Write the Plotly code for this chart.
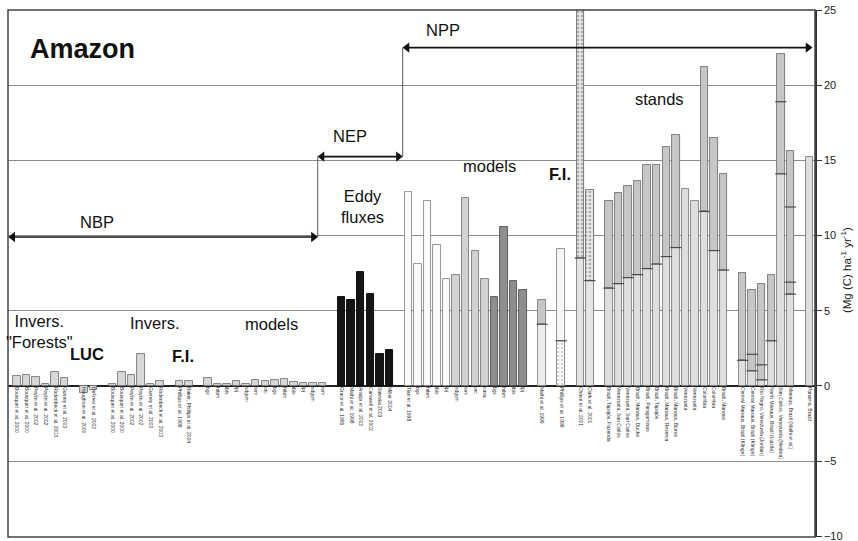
import plotly.graph_objects as go

# ---------------- data (Mg C ha-1 yr-1) ----------------
forest_inv_labels = ["Bousquet et al. 2000", "Bousquet et al. 2000", "Peylin et al. 2002",
                     "Peylin et al. 2002", "Rödenbeck et al. 2003", "Gurney et al. 2003"]
forest_inv_vals = [0.66, 0.7, 0.6, 0.15, 0.93, 0.55]

luc_labels = ["Houghton et al. 2000", "DeFries et al. 2002"]
luc_vals = [-0.5, -0.3]

inv_labels = ["Bousquet et al. 2000", "Bousquet et al. 2000", "Peylin et al. 2002",
              "Peylin et al. 2002", "Gurney et al. 2003", "Rödenbeck et al. 2003"]
inv_vals = [0.1, 0.95, 0.75, 2.1, 0.1, 0.3]

fi_nbp_labels = ["Phillips et al. 1998", "Baker, Phillips et al. 2004"]
fi_nbp_vals = [0.3, 0.3]

nbp_model_labels = ["bgc", "hrbm", "ibis", "lpj", "sdgvm", "tem", "orc",
                    "bgc", "hrbm", "ibis", "lpj", "sdgvm", "tem"]
nbp_model_vals = [0.5, 0.1, 0.15, 0.35, 0.1, 0.4, 0.35, 0.4, 0.45, 0.25, 0.2, 0.2, 0.2]

eddy_labels = ["Grace et al. 1995", "Malhi et al. 1998", "Araújo et al. 2002",
               "Carswell et al. 2002", "Saleska 2003", "Miller 2004"]
eddy_vals = [5.9, 5.7, 7.6, 6.1, 2.1, 2.4]

npp_model_a_labels = ["Tian et al. 1998", "bgc", "hrbm", "ibis", "lpj"]
npp_model_a_vals = [12.9, 8.1, 12.3, 9.4, 7.1]
npp_model_b_labels = ["sdgvm", "tem", "orc", "casa"]
npp_model_b_vals = [7.4, 12.5, 9.0, 7.1]
npp_model_c_labels = ["bgc", "hrbm", "ibis", "lpj"]
npp_model_c_vals = [5.9, 10.6, 7.0, 6.4]

malhi_labels = ["Malhi et al. 1999"]
malhi_vals = [5.7]
malhi_marks = [[4.1]]

fi_npp_labels = ["Phillips et al. 1998"]
fi_npp_vals = [9.1]
fi_npp_marks = [[3.0]]

plot_labels = ["Chave et al. 2001", "Clark et al. 2001"]
plot_vals = [26.0, 13.0]
plot_marks = [[8.5], [7.0]]

stand_labels = ["Brazil, Tapajós, Fazenda", "Venezuela, San Carlos", "Venezuela, San Carlos",
                "Brazil, Manaus, Ducke", "Brazil, Paragominas", "Brazil, Tapajós",
                "Brazil, Manaus, Reserva", "Brazil, Manaus, Bionte", "Venezuela",
                "Venezuela", "Colombia", "Colombia", "Brazil, Manaus"]
stand_vals = [12.3, 12.8, 13.3, 13.6, 14.7, 14.7, 15.9, 16.7, 13.1, 12.3, 21.2, 16.5, 14.1]
stand_marks = [[6.5], [6.8], [7.2], [7.4], [7.8], [8.1], [8.6], [9.2], [], [], [11.6], [9.0], [7.7]]

stand2_labels = ["Central Manaus, Brazil (Klinge)", "Central Manaus, Brazil (Klinge)",
                 "Río Negro, Venezuela (Jordan)", "North Manaus, Brazil (Luizão)",
                 "San Carlos, Venezuela (Medina)", "Manaus, Brazil (Malhi et al.)"]
stand2_vals = [7.5, 6.4, 6.8, 7.4, 22.1, 15.6]
stand2_marks = [[1.7], [2.1, 1.0], [1.4, 0.4], [3.0], [18.9, 14.1], [11.9, 6.9, 6.1]]

last_labels = ["Panama, Brazil"]
last_vals = [15.2]

y_ticks = [-10, -5, 0, 5, 10, 15, 20, 25]

# ---------------- styles ----------------
STYLES = {
    "nbp":   dict(fill="#d8d8d8", line="#777777"),
    "eddy":  dict(fill="#141414", line="#000000"),
    "white": dict(fill="#fbfbfb", line="#8a8a8a"),
    "light": dict(fill="#d2d2d2", line="#7a7a7a"),
    "dark":  dict(fill="#8e8e8e", line="#555555"),
    "pale":  dict(fill="#ececec", line="#8a8a8a"),
    "fi":    dict(fill="#f7f7f7", line="#8a8a8a"),
    "check": dict(fill="#e4e4e4", line="#7a7a7a"),
    "stand": dict(fill="#dedede", line="#808080"),
}

# (labels, values, marks, style, gap before group)
groups = [
    (forest_inv_labels, forest_inv_vals, None, "nbp", 0),
    (luc_labels, luc_vals, None, "nbp", 1),
    (inv_labels, inv_vals, None, "nbp", 1),
    (fi_nbp_labels, fi_nbp_vals, None, "nbp", 1),
    (nbp_model_labels, nbp_model_vals, None, "nbp", 1),
    (eddy_labels, eddy_vals, None, "eddy", 1),
    (npp_model_a_labels, npp_model_a_vals, None, "white", 1),
    (npp_model_b_labels, npp_model_b_vals, None, "light", 0),
    (npp_model_c_labels, npp_model_c_vals, None, "dark", 0),
    (malhi_labels, malhi_vals, malhi_marks, "pale", 1),
    (fi_npp_labels, fi_npp_vals, fi_npp_marks, "fi", 1),
    (plot_labels, plot_vals, plot_marks, "check", 1),
    (stand_labels, stand_vals, stand_marks, "stand", 1),
    (stand2_labels, stand2_vals, stand2_marks, "stand", 1),
    (last_labels, last_vals, None, "stand", 1),
]

BAR_W = 0.78
fig = go.Figure()
tickvals, ticktext = [], []
mark_x, mark_y = [], []
pos = -1
for labels, vals, marks, style, gap in groups:
    pos += gap
    xs = []
    for lab in labels:
        pos += 1
        xs.append(pos)
        tickvals.append(pos)
        ticktext.append(lab)
    st = STYLES[style]
    fig.add_trace(go.Bar(x=xs, y=vals, width=BAR_W,
                         marker=dict(color=st["fill"], line=dict(color=st["line"], width=0.9)),
                         showlegend=False, hoverinfo="skip"))
    if marks:
        ox, ob, oh = [], [], []
        for x, v, mk in zip(xs, vals, marks):
            for m in mk:
                mark_x.append(x)
                mark_y.append(m)
            if not mk:
                continue
            low = min(mk)
            if style == "fi":
                ox.append(x); ob.append(0); oh.append(low)
            else:
                ox.append(x); ob.append(low); oh.append(v - low)
        if style == "check":
            om = dict(color="#e8e8e8", line=dict(color=st["line"], width=0.9),
                      pattern=dict(shape=".", fgcolor="#6d6d6d", bgcolor="#e8e8e8",
                                   size=4, solidity=0.35))
        elif style == "fi":
            om = dict(color="#f7f7f7", line=dict(color=st["line"], width=0.9),
                      pattern=dict(shape=".", fgcolor="#9a9a9a", bgcolor="#f7f7f7",
                                   size=4, solidity=0.2))
        else:
            om = dict(color="#c6c6c6", line=dict(color=st["line"], width=0.9))
        if ox:
            fig.add_trace(go.Bar(x=ox, y=oh, base=ob, width=BAR_W, marker=om,
                                 showlegend=False, hoverinfo="skip"))

# horizontal ticks marking values inside the bars
fig.add_trace(go.Scatter(x=mark_x, y=mark_y, mode="markers",
                         marker=dict(symbol="line-ew", size=8,
                                     line=dict(color="#4a4a4a", width=1.2)),
                         showlegend=False, hoverinfo="skip"))

X0, X1 = -0.94, 83.58
Y0, Y1 = -10.05, 25
FONT = "Liberation Sans, Arial, Helvetica, sans-serif"

# section arrows (NBP, NEP, NPP): shafts as shapes, heads as triangle markers
y_nbp, y_nep, y_npp = 9.9, 15.25, 22.5
x_start, x_nbp_end, x_nep_end, x_npp_end = X0 + 0.05, 31.5, 40.4, 83.3
spans = [(x_start, x_nbp_end, y_nbp), (x_nbp_end, x_nep_end, y_nep), (x_nep_end, x_npp_end, y_npp)]

shapes = []
head_l_x, head_l_y, head_r_x, head_r_y = [], [], [], []
for xa, xb, yy in spans:
    shapes.append(dict(type="line", xref="x", yref="y", x0=xa + 0.4, x1=xb - 0.4, y0=yy, y1=yy,
                       line=dict(color="#111111", width=1.6)))
    head_l_x.append(xa + 0.45); head_l_y.append(yy)
    head_r_x.append(xb - 0.45); head_r_y.append(yy)
fig.add_trace(go.Scatter(x=head_l_x, y=head_l_y, mode="markers", cliponaxis=False,
                         marker=dict(symbol="triangle-left", size=9, color="#111111"),
                         showlegend=False, hoverinfo="skip"))
fig.add_trace(go.Scatter(x=head_r_x, y=head_r_y, mode="markers", cliponaxis=False,
                         marker=dict(symbol="triangle-right", size=9, color="#111111"),
                         showlegend=False, hoverinfo="skip"))

shapes += [
    dict(type="line", xref="x", yref="y", x0=x_nbp_end, x1=x_nbp_end, y0=y_nbp, y1=y_nep,
         line=dict(color="#555555", width=1)),
    dict(type="line", xref="x", yref="y", x0=x_nep_end, x1=x_nep_end, y0=y_nep, y1=y_npp,
         line=dict(color="#555555", width=1)),
    dict(type="rect", xref="paper", yref="paper", x0=0, x1=1, y0=0, y1=1,
         line=dict(color="#444444", width=1.5), layer="above"),
]


def label(text, x, y, size=16.5, bold=False):
    t = f"<b>{text}</b>" if bold else text
    return dict(text=t, x=x, y=y, xref="x", yref="y", showarrow=False,
                font=dict(family=FONT, size=size, color="#111111"), align="center")


annotations = [
    label("Amazon", 6.9, 22.4, size=27, bold=True),
    label("NBP", 8.4, 10.9),
    label("NEP", 34.9, 16.6),
    label("NPP", 44.6, 23.7),
    label("Eddy<br>fluxes", 36.2, 11.9),
    label("models", 49.5, 14.6),
    label("F.I.", 56.9, 14.1, bold=True),
    label("stands", 67.3, 19.1),
    label("Invers.<br>\"Forests\"", 2.4, 3.65),
    label("LUC", 7.3, 2.1, bold=True),
    label("Invers.", 14.5, 4.2),
    label("F.I.", 17.4, 2.0, bold=True),
    label("models", 26.7, 4.1),
    dict(text="(Mg (C) ha<sup>-1</sup> yr<sup>-1</sup>)", xref="paper", yref="y",
         x=1, y=7.7, xanchor="left", yanchor="middle", xshift=22, textangle=-90,
         showarrow=False, font=dict(family=FONT, size=11.5, color="#222222")),
]

fig.update_layout(
    width=858, height=541,
    margin=dict(l=8, r=43, t=10, b=4),
    paper_bgcolor="white", plot_bgcolor="white",
    barmode="overlay", bargap=0,
    font=dict(family=FONT, color="#222222"),
    xaxis=dict(range=[X0, X1], tickmode="array", tickvals=tickvals, ticktext=ticktext,
               tickangle=90, tickfont=dict(size=5, color="#333333"),
               anchor="free", position=(0 - Y0) / (Y1 - Y0),
               showgrid=False, zeroline=False, showline=False, ticks="",
               automargin=False, fixedrange=True),
    yaxis=dict(range=[Y0, Y1], tickvals=y_ticks, side="right",
               ticks="outside", ticklen=5, tickcolor="#333333",
               tickfont=dict(size=11, color="#222222"), ticklabeloverflow="allow",
               showgrid=True, gridcolor="#8c8c8c", gridwidth=1.2,
               zeroline=True, zerolinecolor="#222222", zerolinewidth=1.6,
               showline=True, linecolor="#333333", linewidth=1.5,
               automargin=False, fixedrange=True),
    annotations=annotations,
    shapes=shapes,
)

fig.write_html("out.html")
